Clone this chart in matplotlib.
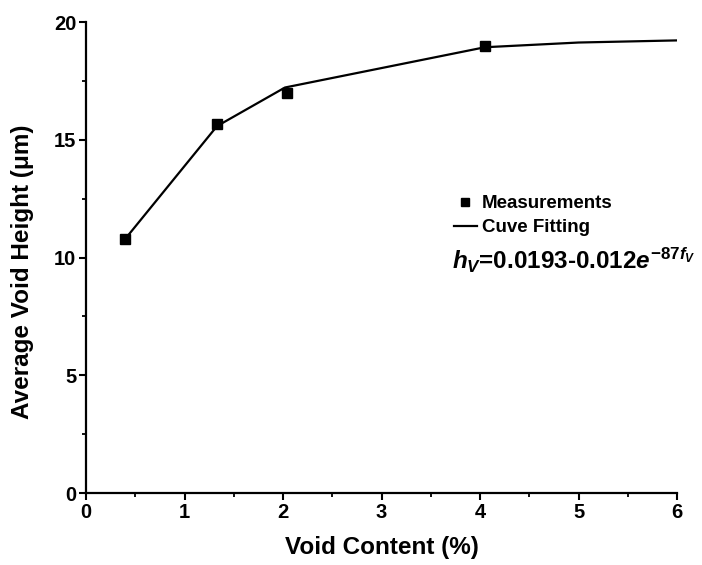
import matplotlib
matplotlib.use("Agg")
import matplotlib.pyplot as plt
from matplotlib.ticker import MultipleLocator

plt.rcParams["font.family"] = "Liberation Sans"
plt.rcParams["font.weight"] = "bold"
plt.rcParams["mathtext.fontset"] = "custom"
plt.rcParams["mathtext.rm"] = "Liberation Sans:bold"
plt.rcParams["mathtext.it"] = "Liberation Sans:bold:italic"
plt.rcParams["mathtext.bf"] = "Liberation Sans:bold"

# measured points
void_content = [0.40, 1.33, 2.04, 4.05]
void_height = [10.8, 15.65, 17.0, 18.98]

# fitted curve as drawn
fit_x = [0.40, 1.33, 2.02, 4.05, 5.0, 6.0]
fit_y = [10.8, 15.58, 17.22, 18.93, 19.13, 19.22]

fig = plt.figure(figsize=(7.02, 5.65), dpi=100)
ax = fig.add_axes([0.1225, 0.1274, 0.842, 0.8336])

line, = ax.plot(fit_x, fit_y, color="black", lw=1.6, label="Cuve Fitting")
pts, = ax.plot(void_content, void_height, ls="none", marker="s", ms=7.8,
               color="black", label="Measurements")

ax.set_xlim(0, 6)
ax.set_ylim(0, 20)
ax.xaxis.set_major_locator(MultipleLocator(1))
ax.xaxis.set_minor_locator(MultipleLocator(0.5))
ax.yaxis.set_major_locator(MultipleLocator(5))
ax.yaxis.set_minor_locator(MultipleLocator(2.5))

for s in ["top", "right"]:
    ax.spines[s].set_visible(False)
for s in ["left", "bottom"]:
    ax.spines[s].set_linewidth(1.6)

ax.tick_params(which="major", direction="out", length=5, width=1.5, labelsize=14.5, pad=2)
ax.tick_params(which="minor", direction="out", length=3, width=1.3)

ax.set_xlabel("Void Content (%)", fontsize=17.5, fontweight="bold", labelpad=10)
ax.set_ylabel("Average Void Height (\u03bcm)", fontsize=17.5, fontweight="bold")
ax.yaxis.set_label_coords(-0.088, 0.469)

leg = ax.legend(handles=[pts, line], loc="upper left", frameon=False, fontsize=13.5,
                handlelength=1.2, handletextpad=0.3, labelspacing=0.35,
                markerscale=0.75, borderaxespad=0)
leg.set_bbox_to_anchor((0.610, 0.648), transform=ax.transAxes)

ax.text(0.62, 0.495, r"$h_V$=0.0193-0.012$e^{-87f_V}$", transform=ax.transAxes,
        fontsize=17.5, fontweight="bold", va="center", ha="left")

fig.savefig("out.png", dpi=100)
